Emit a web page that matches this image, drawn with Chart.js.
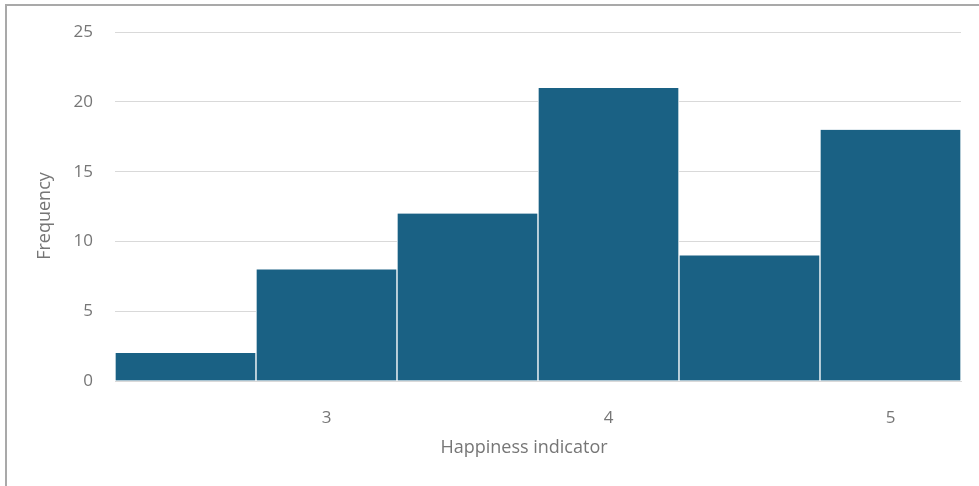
<!DOCTYPE html>
<html>
<head>
<meta charset="utf-8">
<script src="https://cdn.jsdelivr.net/npm/chart.js@4"></script>
<style>
  html, body { margin: 0; padding: 0; background: #fff; overflow: hidden; }
  #wrap { position: relative; width: 979px; height: 486px; }
  #frame {
    position: absolute; left: 5px; top: 4px; width: 1000px; height: 600px;
    border-top: 2px solid #a9a9a9; border-left: 2px solid #a9a9a9;
    pointer-events: none;
  }
  canvas { position: absolute; left: 0; top: 0; }
</style>
</head>
<body>
<div id="wrap">
  <canvas id="chart" width="979" height="486"></canvas>
  <div id="frame"></div>
</div>
<script>
// Histogram bins (centre of each 0.5-wide bin) and their counts
const binCenters = [2.5, 3, 3.5, 4, 4.5, 5];
const frequencies = [2, 8, 12, 21, 9, 18];
const xTickValues = [3, 4, 5];
const yTicks = [0, 5, 10, 15, 20, 25];
const xTitle = 'Happiness indicator';
const yTitle = 'Frequency';

const FONT = '"Open Sans", "DejaVu Sans", sans-serif';
const TEXT = '#767676';
const GRID = '#d9d9d9';

// Axis titles are drawn at fixed spots beside the plot
const axisTitles = {
  id: 'axisTitles',
  afterDraw(chart) {
    const ctx = chart.ctx;
    ctx.save();
    ctx.fillStyle = TEXT;
    ctx.font = '18px ' + FONT;
    ctx.textAlign = 'center';
    ctx.textBaseline = 'middle';
    ctx.fillText(xTitle, 524, 448);
    ctx.translate(45, 216);
    ctx.rotate(-Math.PI / 2);
    ctx.fillText(yTitle, 0, 0);
    ctx.restore();
  }
};

new Chart(document.getElementById('chart'), {
  type: 'bar',
  data: {
    labels: binCenters.map(String),
    datasets: [{
      data: frequencies,
      backgroundColor: '#1a6184',
      borderColor: '#ffffff',
      borderWidth: { left: 1, right: 1, top: 0, bottom: 0 },
      borderSkipped: false,
      barPercentage: 1,
      categoryPercentage: 1
    }]
  },
  options: {
    responsive: false,
    animation: false,
    devicePixelRatio: 1,
    layout: { padding: { top: 31, right: 18, bottom: 0, left: 0 } },
    plugins: { legend: { display: false }, tooltip: { enabled: false } },
    scales: {
      x: {
        grid: { display: false },
        border: { display: true, color: GRID, width: 1 },
        ticks: {
          color: TEXT,
          font: { family: FONT, size: 17 },
          padding: 19,
          autoSkip: false,
          maxRotation: 0,
          callback(value, index) {
            const v = binCenters[index];
            return xTickValues.includes(v) ? String(v) : '';
          }
        },
        afterFit(scale) { scale.height = 105; }
      },
      y: {
        min: 0,
        max: 25,
        afterBuildTicks(scale) { scale.ticks = yTicks.map(v => ({ value: v })); },
        grid: { color: GRID, lineWidth: 1, drawTicks: false },
        border: { display: false },
        ticks: {
          color: TEXT,
          font: { family: FONT, size: 17 },
          padding: 22
        },
        afterFit(scale) { scale.width = 115; }
      }
    }
  },
  plugins: [axisTitles]
});
</script>
</body>
</html>
